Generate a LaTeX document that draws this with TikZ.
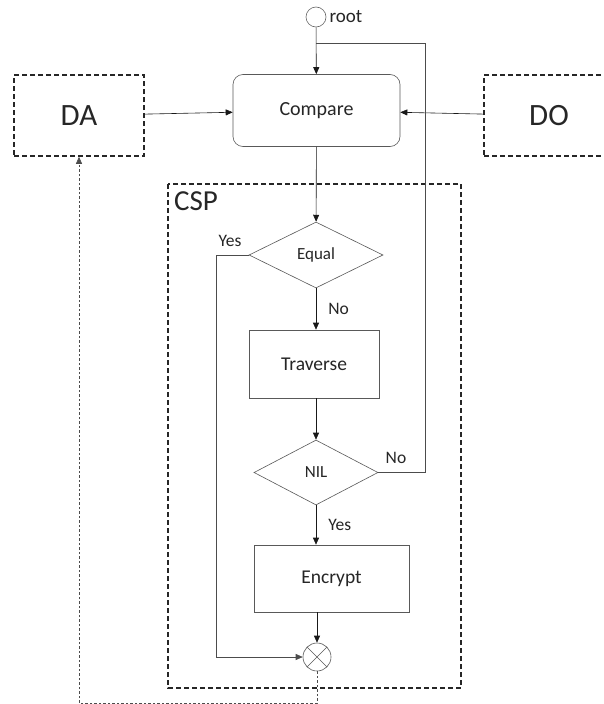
\documentclass[tikz,border=0pt]{standalone}
\usepackage{fontspec}
\setmainfont{Carlito}
\usetikzlibrary{arrows.meta, positioning, shapes.geometric}
\tikzset{
    proc/.style={draw=black!65, semithick, minimum width=130pt, minimum height=68pt,
        inner sep=0pt, font=\fontsize{19.5}{22}\selectfont, text=black!85},
    decide/.style={diamond, draw=black!65, semithick, inner sep=0pt,
        font=\fontsize{17}{19}\selectfont, text=black!85},
    party/.style={draw=black!85, line width=1.6pt, dash pattern=on 5pt off 3pt,
        minimum width=130pt, minimum height=81pt, font=\fontsize{31}{35}\selectfont, text=black!85},
    lbl/.style={font=\fontsize{17.5}{20}\selectfont, text=black!85, inner sep=0pt},
    flow/.style={draw=black!90, semithick, -{Triangle[length=7pt,width=6pt]}},
    back/.style={draw=black!70, semithick, dash pattern=on 2.5pt off 2pt}
}
\begin{document}
\begin{tikzpicture}[x=1pt, y=-1pt]
    \useasboundingbox (0,0) rectangle (603,704);
    \fill[white] (0,0) rectangle (603,704);
    % CSP frame
    \draw[draw=black!85, line width=1.6pt, dash pattern=on 5pt off 3pt] (168,184) rectangle (461,688);
    \node[lbl, font=\fontsize{29}{32}\selectfont, anchor=west] (csp) at (174,201) {CSP};
    % top row
    \node[circle, draw=black!60, semithick, minimum size=20pt, inner sep=0pt] (root) at (316,17) {};
    \node[lbl, font=\fontsize{19}{21}\selectfont, anchor=west] (rootlbl) at ([xshift=3pt]root.east) {root};
    \node[draw=black!65, semithick, rounded corners=10pt, minimum width=167pt, minimum height=72pt,
        font=\fontsize{20}{23}\selectfont, text=black!85] (compare) at (316.5,110.5) {Compare};
    \node[party] (da) at (79,115.5) {DA};
    \node[party] (do) at (549,115.5) {DO};
    % inside CSP
    \node[decide, minimum width=134pt, minimum height=66pt] (equal) at (316,255) {Equal};
    \node[proc] (traverse) at (314,364) {Traverse};
    \node[decide, minimum width=124pt, minimum height=65pt] (nil) at (316,472.5) {NIL};
    \node[proc, minimum width=155pt, minimum height=67pt] (encrypt) at (331.5,578.5) {Encrypt};
    \node[circle, draw=black!65, semithick, minimum size=28pt, inner sep=0pt] (join) at (317,657) {};
    \draw[black!65, semithick] (join.45) -- (join.225) (join.135) -- (join.-45);
    \coordinate (loop) at (316,43);
    % connectors
    \draw[flow] (root) -- (compare);
    \draw[flow] (da) -- (compare);
    \draw[flow] (do) -- (compare);
    \draw[flow] (compare) -- (equal);
    \draw[flow] (equal) -- node[lbl, right=12pt] {No} (traverse.north -| equal);
    \draw[flow] (traverse.south -| nil) -- (nil);
    \draw[flow] (nil) -- node[lbl, right=12pt] {Yes} (encrypt.north -| nil);
    \draw[flow] (encrypt.south -| join) -- (join);
    \draw[black!70, semithick] (nil.east) -- (425,472.5) -- (425,43) -- (loop);
    \node[lbl] (nolbl) at (396,458) {No};
    \draw[flow, draw=black!70] (equal.west) -- (216,255) -- (216,657) -- (join.west);
    \node[lbl] (yeslbl) at (230,241) {Yes};
    \draw[back, -{Triangle[length=7pt,width=6pt]}] (join.south) -- (317,703) -- (79,703) -- (da.south);
\end{tikzpicture}
\end{document}
